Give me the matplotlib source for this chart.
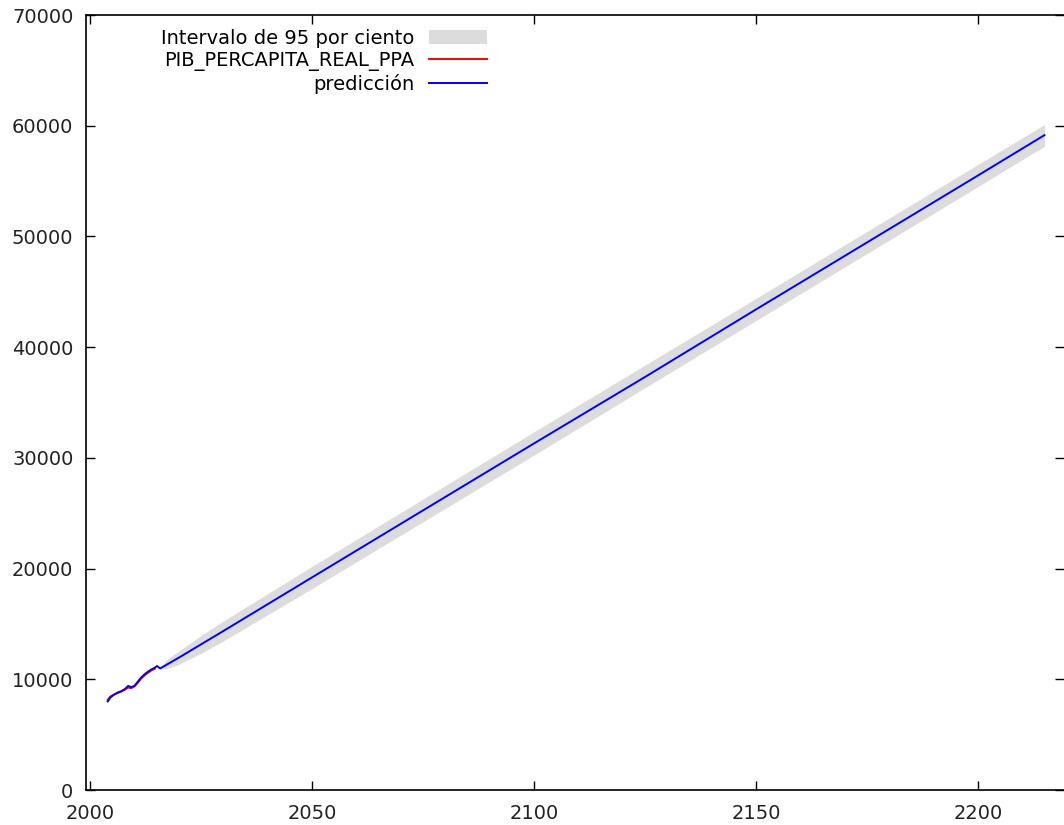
import matplotlib
matplotlib.use("Agg")
import matplotlib.pyplot as plt
import numpy as np

# serie observada (PIB per capita real PPA)
obs_years = [2004.0, 2004.6, 2005.3, 2006.2, 2007.0, 2007.8, 2008.6, 2009.3, 2010.0,
             2010.7, 2011.5, 2012.3, 2013.1, 2013.9, 2014.6]
obs_vals = [8150, 8450, 8600, 8750, 8880, 9050, 9250, 9200, 9350,
            9650, 10050, 10350, 10600, 10820, 10950]

# valores ajustados + prediccion
pred_years = [2004.0, 2004.6, 2005.3, 2006.2, 2007.0, 2007.8, 2008.6, 2009.3, 2010.0,
              2010.7, 2011.5, 2012.3, 2013.1, 2013.9, 2014.6, 2015.1, 2015.8,
              2020, 2030, 2050, 2075, 2100, 2125, 2150, 2175, 2200, 2215]
pred_vals = [8000, 8350, 8580, 8800, 8920, 9100, 9400, 9300, 9400,
             9750, 10150, 10450, 10700, 10900, 11050, 11200, 10980,
             11950, 14350, 19200, 25250, 31300, 37300, 43400, 49450, 55500, 59150]

# intervalo de 95 por ciento
band_years = [2015.8, 2017, 2018, 2020, 2025, 2030, 2050, 2100, 2150, 2200, 2215]
band_lo = [10900, 10950, 11050, 11350, 12350, 13450, 18200, 30250, 42400, 54500, 58150]
band_hi = [11060, 11650, 12000, 12550, 13950, 15250, 20200, 32350, 44400, 56500, 60100]

xticks = [2000, 2050, 2100, 2150, 2200]
yticks = [0, 10000, 20000, 30000, 40000, 50000, 60000, 70000]

plt.rcParams["font.family"] = ["DejaVu Sans"]
plt.rcParams["font.size"] = 14

fig = plt.figure(figsize=(10.64, 8.25), dpi=100)
ax = fig.add_axes([0.0808, 0.0424, 0.9192, 0.9394])

ax.fill_between(band_years, band_lo, band_hi, color="#dcdcdc", lw=0,
                label="Intervalo de 95 por ciento")
ax.plot(obs_years, obs_vals, color="#ff0000", lw=1.4, label="PIB_PERCAPITA_REAL_PPA")
ax.plot(pred_years, pred_vals, color="#0000ff", lw=1.4, label="predicción")

ax.set_xlim(1999.1, 2219.4)
ax.set_ylim(0, 70000)
ax.set_xticks(xticks)
ax.set_yticks(yticks)
ax.tick_params(direction="in", length=6.5, width=1.0, top=True, right=True,
               colors="black", labelcolor="#222222")
ax.tick_params(axis="y", pad=9)
ax.tick_params(axis="x", pad=10)
for s in ["left", "bottom", "top"]:
    ax.spines[s].set_linewidth(1.2)
ax.spines["right"].set_visible(False)

leg = ax.legend(loc="upper right", bbox_to_anchor=(497 / 1064, 1 - 19 / 825),
                bbox_transform=fig.transFigure, frameon=False, markerfirst=False,
                borderpad=0, handlelength=3.0, handletextpad=0.75, labelspacing=0.15)

fig.savefig("out.png", dpi=100)
